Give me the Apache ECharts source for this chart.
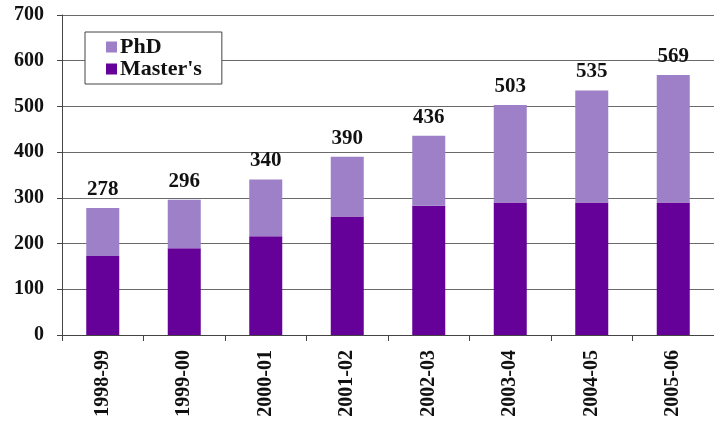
<!DOCTYPE html>
<html>
<head>
<meta charset="utf-8">
<script src="https://cdn.jsdelivr.net/npm/echarts@6/dist/echarts.min.js"></script>
<style>
  html, body { margin: 0; padding: 0; background: #fff; }
  #chart { width: 714px; height: 424px; }
</style>
</head>
<body>
<div id="chart"></div>
<script>
// Academic years on the category axis
const years = ['1998-99', '1999-00', '2000-01', '2001-02', '2002-03', '2003-04', '2004-05', '2005-06'];
// Degrees awarded by level (stacked)
const masters = [173, 190, 216, 259, 283, 290, 290, 290];
const phd = [105, 106, 124, 131, 153, 213, 245, 279];
// Totals shown above each stack
const totals = masters.map((m, i) => m + phd[i]);

const serif = '"Liberation Serif", "Times New Roman", serif';

const chart = echarts.init(document.getElementById('chart'), null, { renderer: 'canvas' });
chart.setOption({
  backgroundColor: '#fff',
  animation: false,
  grid: { left: 62, right: -7, top: 15, bottom: 89 },
  legend: {
    data: ['PhD', "Master's"],
    orient: 'vertical',
    left: 85,
    top: 32,
    width: 140,
    padding: [4, 20, 4, 21],
    itemGap: 0,
    itemWidth: 11,
    itemHeight: 11,
    icon: 'rect',
    backgroundColor: '#fff',
    borderColor: '#444',
    borderWidth: 1,
    borderRadius: 0,
    textStyle: { fontFamily: serif, fontWeight: 'bold', fontSize: 22, color: '#111', lineHeight: 18, padding: [0, 0, 0, -2] }
  },
  xAxis: {
    type: 'category',
    data: years,
    boundaryGap: true,
    axisLine: { lineStyle: { color: '#444', width: 1 } },
    axisTick: { show: true, length: 6, lineStyle: { color: '#444' } },
    axisLabel: {
      rotate: 90,
      margin: 15,
      fontFamily: serif,
      fontWeight: 'bold',
      fontSize: 20,
      color: '#111'
    }
  },
  yAxis: {
    type: 'value',
    min: 0,
    max: 700,
    interval: 100,
    axisLine: { show: true, lineStyle: { color: '#444', width: 1 } },
    axisTick: { show: true, length: 5, lineStyle: { color: '#444' } },
    axisLabel: {
      margin: 18,
      fontFamily: serif,
      fontWeight: 'bold',
      fontSize: 20,
      color: '#111'
    },
    splitLine: { show: true, lineStyle: { color: '#6a6a6a', width: 1 } }
  },
  series: [
    {
      name: "Master's",
      type: 'bar',
      stack: 'degrees',
      data: masters,
      barWidth: 33,
      itemStyle: { color: '#650098' }
    },
    {
      name: 'PhD',
      type: 'bar',
      stack: 'degrees',
      data: phd,
      barWidth: 33,
      itemStyle: { color: '#9d80c7' },
      label: {
        show: true,
        position: 'top',
        distance: 8,
        fontFamily: serif,
        fontWeight: 'bold',
        fontSize: 21,
        color: '#111',
        formatter: p => String(totals[p.dataIndex])
      }
    }
  ]
});
</script>
</body>
</html>
